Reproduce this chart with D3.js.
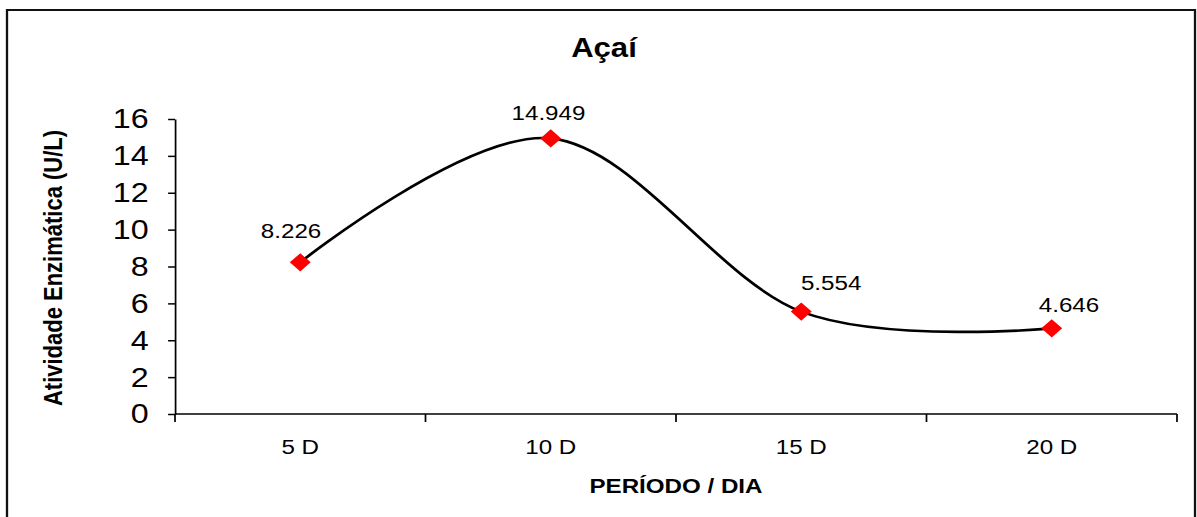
<!DOCTYPE html>
<html>
<head>
<meta charset="utf-8">
<script src="https://cdn.jsdelivr.net/npm/d3@7"></script>
<style>
  html, body { margin: 0; padding: 0; background: #fff; }
  svg { display: block; }
  text { font-family: "Liberation Sans", Arial, sans-serif; fill: #000; }
</style>
</head>
<body>
<div id="chart"></div>
<script>
const categories = ["5 D", "10 D", "15 D", "20 D"];
const values = [8.226, 14.949, 5.554, 4.646];
const valueLabels = ["8.226", "14.949", "5.554", "4.646"];
const yTicks = [0, 2, 4, 6, 8, 10, 12, 14, 16];

// the original picture is stretched sideways, so draw narrower and let the viewBox widen it
const stretch = 1.15;
const W = 1197, H = 517;
const vw = W / stretch;

const plot = { left: 175 / stretch, right: 1177 / stretch, top: 119, bottom: 414 };
// hand placed label offsets (dx, dy) like in the source sheet
const labelNudge = [[-8, -24], [-2, -18], [26, -22], [15, -16]];

const svg = d3
  .select("#chart")
  .append("svg")
  .attr("width", W)
  .attr("height", H)
  .attr("viewBox", "0 0 " + vw + " " + H)
  .attr("preserveAspectRatio", "none");

// outer frame
svg
  .append("rect")
  .attr("x", 7 / stretch)
  .attr("y", 10)
  .attr("width", 1188 / stretch)
  .attr("height", H + 20)
  .attr("fill", "none")
  .attr("stroke", "#111")
  .attr("stroke-width", 2);

const x = d3
  .scaleBand()
  .domain(categories)
  .range([plot.left, plot.right])
  .padding(0);

const y = d3.scaleLinear().domain([0, 16]).range([plot.bottom, plot.top]);

// y axis
const yAxis = svg
  .append("g")
  .attr("transform", "translate(" + plot.left + ",0)")
  .call(
    d3.axisLeft(y).tickValues(yTicks).tickSize(6).tickSizeOuter(0).tickPadding(17)
  );
yAxis.selectAll("text").style("font-size", "28px").attr("font-family", null);
yAxis.selectAll("line, path").attr("stroke", "#000").attr("stroke-width", 1.5);

// x axis: line plus ticks on the band edges
const xAxis = svg.append("g");
xAxis
  .append("line")
  .attr("x1", plot.left)
  .attr("x2", plot.right)
  .attr("y1", plot.bottom)
  .attr("y2", plot.bottom)
  .attr("stroke", "#000")
  .attr("stroke-width", 1.5);

const edges = categories.map((c) => x(c)).concat([x.range()[1]]);
xAxis
  .selectAll(".edge")
  .data(edges)
  .enter()
  .append("line")
  .attr("class", "edge")
  .attr("x1", (d) => d)
  .attr("x2", (d) => d)
  .attr("y1", plot.bottom)
  .attr("y2", plot.bottom + 8)
  .attr("stroke", "#000")
  .attr("stroke-width", 1.5);

xAxis
  .selectAll(".cat")
  .data(categories)
  .enter()
  .append("text")
  .attr("class", "cat")
  .attr("x", (d) => x(d) + x.bandwidth() / 2)
  .attr("y", 454)
  .attr("text-anchor", "middle")
  .style("font-size", "21px")
  .text((d) => d);

// titles
svg
  .append("text")
  .attr("x", 604 / stretch)
  .attr("y", 57)
  .attr("text-anchor", "middle")
  .style("font-size", "27px")
  .style("font-weight", "bold")
  .text("Açaí");

svg
  .append("text")
  .attr("x", (plot.left + plot.right) / 2)
  .attr("y", 493)
  .attr("text-anchor", "middle")
  .style("font-size", "21px")
  .style("font-weight", "bold")
  .text("PERÍODO / DIA");

svg
  .append("text")
  .attr("transform", "translate(" + 62 / stretch + "," + 268 + ") rotate(-90)")
  .attr("text-anchor", "middle")
  .style("font-size", "22px")
  .style("font-weight", "bold")
  .text("Atividade Enzimática (U/L)");

// smoothed line
const pts = categories.map((c, i) => [x(c) + x.bandwidth() / 2, y(values[i])]);

svg
  .append("path")
  .datum(pts)
  .attr("fill", "none")
  .attr("stroke", "#000")
  .attr("stroke-width", 2.6)
  .attr("d", d3.line().curve(d3.curveCardinal.tension(0)));

// diamond markers
svg
  .append("g")
  .selectAll("path")
  .data(pts)
  .enter()
  .append("path")
  .attr("transform", (d) => "translate(" + d[0] + "," + d[1] + ") rotate(45)")
  .attr("d", d3.symbol(d3.symbolSquare, 165)())
  .attr("fill", "#ff0000");

// value labels
svg
  .append("g")
  .selectAll("text")
  .data(pts)
  .enter()
  .append("text")
  .attr("x", (d, i) => d[0] + labelNudge[i][0])
  .attr("y", (d, i) => d[1] + labelNudge[i][1])
  .attr("text-anchor", "middle")
  .style("font-size", "21px")
  .text((d, i) => valueLabels[i]);
</script>
</body>
</html>
